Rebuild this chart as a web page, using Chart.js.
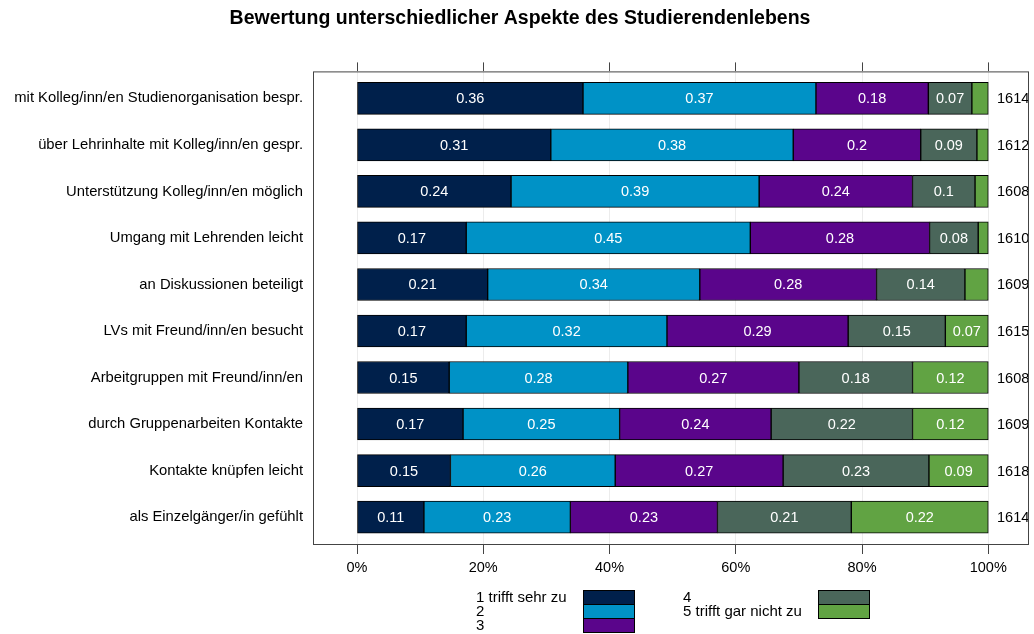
<!DOCTYPE html>
<html>
<head>
<meta charset="utf-8">
<script src="https://cdn.jsdelivr.net/npm/chart.js@4"></script>
<style>
  html, body { margin: 0; padding: 0; background: #fff; }
  #wrap { width: 1034px; height: 634px; }
</style>
</head>
<body>
<div id="wrap"><canvas id="chart" width="1034" height="634"></canvas></div>
<script>
// rows from top to bottom
const categories = [
  'mit Kolleg/inn/en Studienorganisation bespr.',
  'über Lehrinhalte mit Kolleg/inn/en gespr.',
  'Unterstützung Kolleg/inn/en möglich',
  'Umgang mit Lehrenden leicht',
  'an Diskussionen beteiligt',
  'LVs mit Freund/inn/en besucht',
  'Arbeitgruppen mit Freund/inn/en',
  'durch Gruppenarbeiten Kontakte',
  'Kontakte knüpfen leicht',
  'als Einzelgänger/in gefühlt'
];
const seriesNames = ['1 trifft sehr zu', '2', '3', '4', '5 trifft gar nicht zu'];
const seriesColors = ['#00204b', '#0092c6', '#5a058b', '#4a665a', '#61a343'];

const s1 = [0.358, 0.307, 0.244, 0.173, 0.207, 0.173, 0.146, 0.168, 0.148, 0.106];
const s2 = [0.369, 0.384, 0.393, 0.450, 0.336, 0.318, 0.283, 0.248, 0.261, 0.232];
const s3 = [0.178, 0.202, 0.243, 0.284, 0.280, 0.287, 0.271, 0.240, 0.266, 0.233];
const s4 = [0.069, 0.089, 0.099, 0.077, 0.140, 0.154, 0.180, 0.224, 0.231, 0.212];
const s5 = [0.026, 0.018, 0.021, 0.016, 0.037, 0.068, 0.120, 0.120, 0.094, 0.217];
const counts = [1614, 1612, 1608, 1610, 1609, 1615, 1608, 1609, 1618, 1614];

const xTicks = [0, 0.2, 0.4, 0.6, 0.8, 1];
const FONT = "'Liberation Sans', Arial, sans-serif";

const allSeries = [s1, s2, s3, s4, s5];
const datasets = allSeries.map((vals, k) => ({
  label: seriesNames[k],
  data: vals.map((v, i) => ({ x: v, y: i })),
  backgroundColor: seriesColors[k],
  borderColor: '#000',
  borderWidth: 1,
  borderSkipped: false,
  barThickness: 32,
  grouped: false
}));

const fmt = v => String(Math.round(v * 100) / 100);

// labels inside segments, counts at right, frame and legend
const extras = {
  id: 'extras',
  afterDatasetsDraw(chart) {
    const ctx = chart.ctx;
    const ys = chart.scales.y;
    ctx.save();
    ctx.font = '14.5px ' + FONT;
    ctx.textBaseline = 'middle';
    ctx.textAlign = 'center';
    ctx.fillStyle = '#fff';
    chart.data.datasets.forEach((ds, k) => {
      chart.getDatasetMeta(k).data.forEach((el, i) => {
        const v = allSeries[k][i];
        if (v < 0.05) return;
        const p = el.getCenterPoint();
        ctx.fillText(fmt(v), p.x, p.y + 1);
      });
    });
    ctx.fillStyle = '#000';
    ctx.textAlign = 'left';
    counts.forEach((c, i) => {
      ctx.fillText(String(c), 997, ys.getPixelForValue(i) + 1);
    });
    const a = chart.chartArea;
    ctx.strokeStyle = '#444';
    ctx.lineWidth = 1;
    ctx.strokeRect(a.left + 0.5, a.top + 0.5, a.right - a.left - 1, a.bottom - a.top - 1);
    ctx.restore();
  },
  afterDraw(chart) {
    const ctx = chart.ctx;
    ctx.save();
    ctx.font = '15px ' + FONT;
    ctx.textBaseline = 'middle';
    ctx.textAlign = 'left';
    ctx.fillStyle = '#000';
    ctx.strokeStyle = '#000';
    ctx.lineWidth = 1;
    const rowH = 14;
    const cols = [
      { tx: 476, bx: 583, items: [0, 1, 2] },
      { tx: 683, bx: 818, items: [3, 4] }
    ];
    cols.forEach(col => {
      col.items.forEach((k, j) => {
        const top = 590 + j * rowH;
        ctx.fillText(seriesNames[k], col.tx, top + rowH / 2 + 1);
        ctx.fillStyle = seriesColors[k];
        ctx.fillRect(col.bx, top, 51, rowH);
        ctx.strokeRect(col.bx + 0.5, top + 0.5, 51, rowH);
        ctx.fillStyle = '#000';
      });
    });
    ctx.restore();
  }
};

new Chart(document.getElementById('chart'), {
  type: 'bar',
  data: { datasets },
  plugins: [extras],
  options: {
    indexAxis: 'y',
    responsive: false,
    animation: false,
    layout: { padding: { left: 11, right: 5, top: 0, bottom: 0 } },
    plugins: {
      legend: { display: false },
      tooltip: { enabled: false },
      title: {
        display: true,
        text: 'Bewertung unterschiedlicher Aspekte des Studierendenlebens',
        color: '#000',
        font: { size: 19.5, weight: 'bold', family: FONT },
        padding: { top: 7, bottom: 32 }
      }
    },
    scales: {
      x: {
        type: 'linear',
        position: 'bottom',
        bounds: 'data',
        stacked: true,
        min: -0.0697,
        max: 1.0645,
        afterBuildTicks: s => { s.ticks = xTicks.map(v => ({ value: v })); },
        afterFit: s => { s.height = 89; },
        ticks: {
          callback: v => Math.round(v * 100) + '%',
          color: '#000',
          padding: 5,
          font: { size: 14.5, family: FONT }
        },
        grid: { color: '#ececec', tickColor: '#444', tickLength: 9 },
        border: { display: false }
      },
      x2: {
        type: 'linear',
        position: 'top',
        bounds: 'data',
        min: -0.0697,
        max: 1.0645,
        afterBuildTicks: s => { s.ticks = xTicks.map(v => ({ value: v })); },
        afterFit: s => { s.height = 9; },
        ticks: { display: false },
        grid: { drawOnChartArea: false, tickColor: '#444', tickLength: 9 },
        border: { display: false }
      },
      y: {
        type: 'linear',
        bounds: 'data',
        offset: false,
        reverse: true,
        min: -0.58,
        max: 9.6,
        afterBuildTicks: s => { s.ticks = categories.map((c, i) => ({ value: i })); },
        afterFit: s => { s.width = 302; },
        ticks: {
          callback: v => categories[v],
          color: '#000',
          padding: 10,
          font: { size: 14.8, family: FONT }
        },
        grid: { display: false, drawTicks: false, offset: false },
        border: { display: false }
      }
    }
  }
});
</script>
</body>
</html>
